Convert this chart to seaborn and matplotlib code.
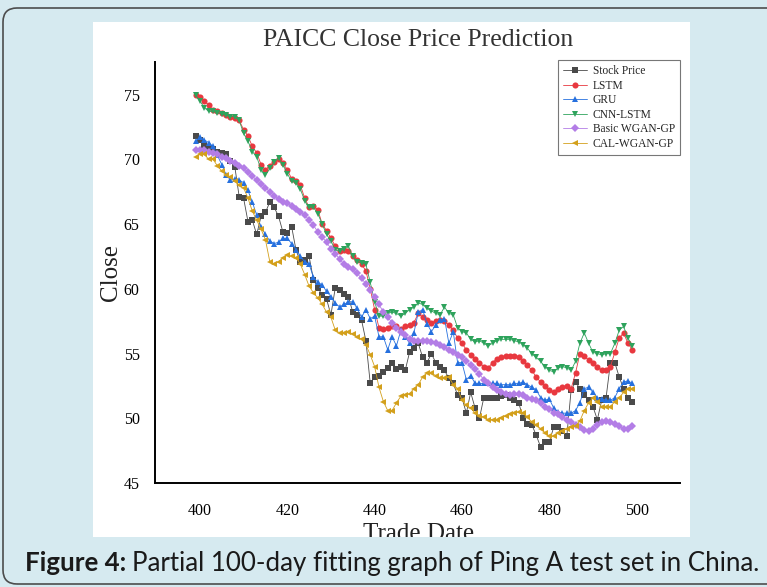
import numpy as np
import pandas as pd
import seaborn as sns
import matplotlib.pyplot as plt
from matplotlib.patches import Rectangle, FancyBboxPatch
from matplotlib.ticker import MultipleLocator

# trade days 399..499
days = list(range(399, 500))

stock = [71.8, 71.5, 71.1, 70.9, 70.8, 70.6, 70.5, 70.4, 69.9, 69.4,
         67.1, 67.0, 65.2, 65.3, 64.2, 65.6, 65.9, 66.7, 66.3, 65.6,
         64.4, 64.3, 64.8, 63.0, 62.1, 62.2, 62.5, 60.7, 60.1, 59.5,
         59.2, 58.0, 60.1, 59.9, 59.6, 59.4, 58.2, 58.0, 57.6, 56.0,
         52.7, 53.2, 53.3, 53.6, 53.9, 54.3, 53.8, 54.0, 53.7, 55.1,
         55.4, 55.8, 54.7, 54.3, 55.0, 54.3, 54.0, 53.7, 53.1, 52.7,
         51.8, 51.6, 50.4, 52.0, 50.8, 50.0, 51.6, 51.6, 51.6, 51.6,
         51.7, 51.8, 51.6, 51.4, 51.2, 50.0, 49.6, 49.5, 48.7, 47.8,
         48.2, 48.2, 49.3, 49.3, 49.0, 48.6, 52.2, 52.8, 52.3, 51.8,
         51.4, 50.9, 49.9, 51.4, 51.6, 54.3, 54.3, 53.2, 52.3, 51.6,
         51.3]

lstm = [75.0, 74.8, 74.5, 74.2, 73.8, 73.7, 73.6, 73.4, 73.3, 73.2,
        73.0, 72.3, 71.8, 71.0, 70.5, 69.6, 69.2, 69.5, 69.8, 70.0,
        69.7, 69.2, 68.5, 68.3, 68.0, 67.0, 66.3, 66.4, 66.1, 65.0,
        64.5, 63.9, 63.3, 62.9, 63.0, 62.9, 62.5, 62.2, 61.9, 61.4,
        60.0, 58.4, 57.0, 56.9, 57.0, 57.1, 57.1, 56.9, 57.1, 57.2,
        57.4, 58.1, 57.8, 57.6, 57.4, 57.5, 57.6, 57.5, 57.2, 56.8,
        56.2, 55.8, 55.3, 54.9, 54.6, 54.3, 54.0, 53.9, 54.3, 54.6,
        54.7, 54.8, 54.8, 54.8, 54.7, 54.4, 54.1, 53.7, 53.2, 52.8,
        52.5, 52.2, 52.0, 52.3, 52.4, 52.5, 52.3, 53.5, 55.0, 54.8,
        54.5, 54.3, 54.0, 53.7, 53.7, 54.0, 55.1, 56.2, 56.6, 55.8,
        55.3]

gru = [71.4, 71.7, 71.5, 71.3, 71.0, 70.3, 69.6, 68.8, 68.4, 68.5,
       68.4, 68.2, 67.6, 66.7, 65.7, 64.8, 64.2, 63.7, 63.5, 63.6,
       63.9, 63.9, 63.5, 63.0, 62.5, 62.1, 61.9, 60.9, 60.5, 60.3,
       59.8, 59.4, 58.9, 58.6, 58.8, 59.0, 59.0, 58.5, 57.8, 58.4,
       57.7, 57.9, 56.3, 56.3, 55.3, 56.3, 55.6, 56.8, 56.3, 55.8,
       56.6, 58.2, 58.4, 57.3, 56.7, 57.2, 57.6, 57.7, 55.8, 56.7,
       54.3, 54.3, 53.0, 53.3, 52.7, 52.7, 52.7, 52.7, 52.7, 52.7,
       52.6, 52.6, 52.6, 52.7, 52.7, 52.8, 52.6, 52.4, 52.2, 51.6,
       51.4, 51.5, 50.8, 50.5, 50.4, 50.4, 50.4, 50.6, 51.2, 52.3,
       52.4, 52.0, 51.6, 51.5, 51.4, 51.4, 51.6, 52.3, 52.8, 52.9,
       52.7]

cnn_lstm = [75.0, 74.5, 74.0, 73.7, 73.7, 73.6, 73.5, 73.4, 73.3, 73.3,
            73.0, 72.0, 71.4, 70.6, 70.2, 69.2, 68.8, 69.3, 69.8, 70.1,
            69.6, 68.9, 68.3, 68.2, 67.7, 66.8, 66.3, 66.3, 65.8, 65.0,
            64.2, 63.7, 63.0, 62.9, 63.1, 63.3, 62.5, 62.1, 62.0, 61.9,
            60.5, 59.0, 57.9, 57.9, 58.1, 58.2, 58.1, 57.9, 58.1, 58.4,
            58.6, 58.9, 58.8, 58.5, 58.3, 58.1, 58.0, 58.6, 58.1, 58.0,
            57.0, 56.7, 56.6, 56.1, 55.9, 56.0, 55.8, 55.6, 55.8, 56.0,
            56.1, 56.1, 56.1, 56.0, 55.9, 55.7, 55.4, 55.0, 54.7, 54.4,
            54.0, 53.7, 53.6, 53.9, 54.0, 53.9, 53.7, 54.4, 55.8, 56.6,
            55.8, 55.1, 55.0, 54.9, 55.0, 55.0, 55.8, 56.8, 57.1, 56.2,
            55.6]

basic_wgan = [70.7, 70.7, 70.7, 70.6, 70.5, 70.4, 70.2, 70.1, 69.9, 69.7,
              69.5, 69.3, 69.0, 68.7, 68.4, 68.1, 67.8, 67.5, 67.2, 66.9,
              66.7, 66.6, 66.4, 66.2, 65.9, 65.7, 65.3, 64.9, 64.4, 64.0,
              63.6, 63.1, 62.7, 62.3, 61.9, 61.7, 61.5, 61.2, 60.8, 60.4,
              59.9, 59.4, 58.8, 58.2, 57.8, 57.4, 57.0, 56.7, 56.4, 56.1,
              56.0, 56.0, 56.0, 56.0, 55.9, 55.8, 55.7, 55.5, 55.3, 55.1,
              54.9, 54.7, 54.4, 54.1, 53.8, 53.4, 53.0, 52.7, 52.4, 52.2,
              52.0, 51.9, 51.8, 51.9, 51.9, 51.8, 51.6, 51.5, 51.4, 51.2,
              50.9, 50.7, 50.4, 50.3, 50.1, 49.9, 49.7, 49.5, 49.3, 49.1,
              49.0, 49.2, 49.5, 49.7, 49.8, 49.7, 49.6, 49.4, 49.2, 49.2,
              49.4]

cal_wgan = [70.2, 70.4, 70.4, 70.0, 70.0, 69.5, 69.1, 68.8, 68.6, 68.3,
            68.0, 67.8, 67.0, 66.0, 65.3, 64.6, 63.8, 62.1, 61.9, 62.1,
            62.4, 62.6, 62.5, 62.4, 61.9, 61.1, 60.2, 59.7, 59.3, 58.8,
            58.2, 57.8, 56.8, 56.6, 56.6, 56.7, 56.5, 56.3, 56.1, 55.7,
            54.9, 54.0, 52.4, 51.3, 50.6, 50.6, 51.2, 51.7, 51.8, 51.9,
            52.3, 52.6, 53.2, 53.5, 53.5, 53.3, 53.1, 53.1, 53.2, 52.6,
            52.3, 51.4, 51.0, 50.8, 50.4, 50.2, 50.1, 49.9, 49.9, 49.9,
            50.0, 50.2, 50.3, 50.4, 50.5, 50.4, 50.1, 49.7, 49.5, 49.2,
            48.9, 48.6, 48.6, 48.9, 49.0, 49.2, 49.3, 49.4, 49.8, 50.6,
            51.2, 51.6, 51.3, 50.9, 50.9, 50.9, 51.3, 51.6, 52.0, 52.3,
            52.3]

labels = ["Stock Price", "LSTM", "GRU", "CNN-LSTM", "Basic WGAN-GP", "CAL-WGAN-GP"]
series = [stock, lstm, gru, cnn_lstm, basic_wgan, cal_wgan]
colors = ["#4a4a4a", "#e8383f", "#2670de", "#2ea35c", "#b37de6", "#d3a01c"]
markers = ["s", "o", "^", "v", "D", "<"]
msizes = [4.4, 4.4, 4.8, 4.8, 3.8, 4.8]

sns.set_style("white")
plt.rcParams["font.family"] = ["Liberation Serif", "DejaVu Serif"]

bg = "#d6eaf0"
fig = plt.figure(figsize=(7.67, 5.87), dpi=100)
fig.patch.set_facecolor(bg)

# white panel behind the chart
fig.add_artist(Rectangle((0.121, 0.085), 0.778, 0.877, transform=fig.transFigure,
                         facecolor="white", edgecolor="none", zorder=-1))

ax = fig.add_axes([0.202, 0.177, 0.685, 0.717])
ax.set_facecolor("white")

for vals, lab, c, m, ms in zip(series, labels, colors, markers, msizes):
    sns.lineplot(x=days, y=vals, ax=ax, color=c, marker=m, markersize=ms,
                 markeredgewidth=0, linewidth=0.6, label=lab)

ax.set_xlim(389.7, 510)
ax.set_ylim(45, 77.5)
ax.xaxis.set_major_locator(MultipleLocator(20))
ax.xaxis.set_minor_locator(MultipleLocator(10))
ax.yaxis.set_major_locator(MultipleLocator(5))
ax.yaxis.set_minor_locator(MultipleLocator(2.5))
ax.tick_params(which="major", direction="out", length=7, width=1.3,
               labelsize=11.5, colors="black")
ax.tick_params(which="minor", direction="out", length=3.5, width=1.1)
ax.tick_params(axis="x", which="major", pad=7)
ax.tick_params(axis="y", which="major", pad=4)
sns.despine(ax=ax)
for s in ["left", "bottom"]:
    ax.spines[s].set_linewidth(1.4)
    ax.spines[s].set_color("black")

ax.set_xlabel("Trade Date", fontsize=18, color="#222222")
ax.set_ylabel("Close", fontsize=18, color="#222222")
ax.xaxis.set_label_coords(0.501, -0.095)
ax.yaxis.set_label_coords(-0.062, 0.5)

leg = ax.legend(loc="upper right", bbox_to_anchor=(1.0, 1.005), borderaxespad=0,
                fontsize=8.3, frameon=True, fancybox=False, handlelength=2.1,
                handletextpad=0.5, labelspacing=0.22, borderpad=0.45)
leg.get_frame().set_edgecolor("#555555")
leg.get_frame().set_linewidth(0.8)

fig.text(0.545, 0.932, "PAICC Close Price Prediction", ha="center", va="center",
         fontsize=18.5, color="#333333")

# light strip below the panel (clips the x label like the original)
fig.add_artist(Rectangle((0, 0), 1, 0.085, transform=fig.transFigure,
                         facecolor=bg, edgecolor="none", zorder=3))
fig.add_artist(FancyBboxPatch((3, 3), 790, 576, boxstyle="round,pad=0,rounding_size=14",
                              transform=None, facecolor="none", edgecolor="#4d4d4d",
                              linewidth=1.2, zorder=4))

cap_y = 1 - 563 / 587
t1 = fig.text(25 / 767, cap_y, "Figure 4:", fontsize=18.6, fontweight="bold",
              family=["Lato", "DejaVu Sans"], color="#1a1a1a", va="center", zorder=5)
fig.canvas.draw()
r = fig.canvas.get_renderer()
bb = t1.get_window_extent(renderer=r)
fig.text((bb.x1 + 6) / 767, cap_y, "Partial 100-day fitting graph of Ping A test set in China.",
         fontsize=18.6, family=["Lato", "DejaVu Sans"], color="#1a1a1a", va="center", zorder=5)

fig.savefig("out.png", dpi=100, facecolor=bg)
